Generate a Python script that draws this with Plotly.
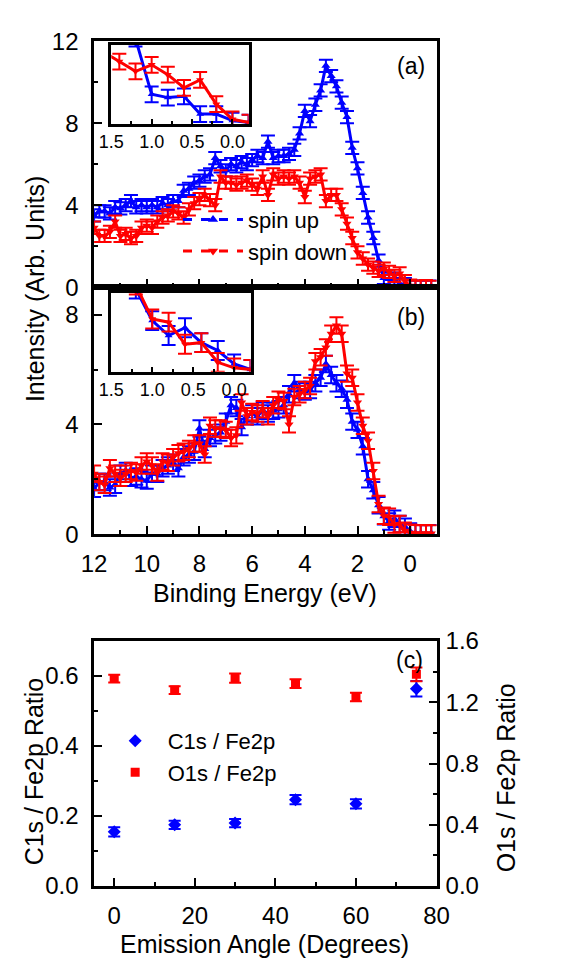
import plotly.graph_objects as go

# ---------------- data ----------------
energy = [12.0, 11.8, 11.6, 11.4, 11.2, 11.0, 10.8, 10.6, 10.4, 10.2, 10.0, 9.8, 9.6, 9.4, 9.2, 9.0,
          8.8, 8.6, 8.4, 8.2, 8.0, 7.8, 7.6, 7.4, 7.2, 7.0, 6.8, 6.6, 6.4, 6.2, 6.0, 5.8, 5.6, 5.4,
          5.2, 5.0, 4.8, 4.6, 4.4, 4.2, 4.0, 3.8, 3.6, 3.4, 3.2, 3.0, 2.8, 2.6, 2.4, 2.2, 2.0, 1.8,
          1.6, 1.4, 1.2, 1.0, 0.8, 0.6, 0.4, 0.2, 0.0, -0.2, -0.4, -0.6, -0.8]

a_up = [3.5, 3.7, 3.7, 3.6, 3.9, 3.85, 4.0, 4.2, 3.9, 4.0, 3.9, 4.0, 3.9, 4.1, 4.0, 4.2,
        4.2, 4.7, 4.8, 5.1, 5.2, 5.4, 5.5, 6.3, 5.9, 5.7, 6.0, 5.9, 6.1, 6.0, 6.2, 6.4, 6.3, 7.1,
        6.3, 6.4, 6.4, 6.5, 6.7, 7.5, 8.6, 8.1, 8.9, 9.6, 10.8, 10.3, 9.8, 9.0, 8.3, 6.8, 5.8, 4.6,
        3.4, 2.4, 1.3, 0.45, 0.4, 0.42, 0.15, 0.15, 0.05, 0.02, 0.03, 0.02, 0.03]

a_down = [2.9, 2.5, 2.5, 2.7, 3.2, 2.5, 2.6, 2.4, 2.5, 2.9, 3.0, 2.9, 3.2, 3.4, 3.5, 3.7,
          3.6, 3.4, 3.8, 4.1, 4.3, 4.5, 4.25, 4.0, 5.4, 5.1, 5.1, 5.0, 5.1, 5.2, 5.0, 4.8, 5.4, 4.5,
          5.5, 5.3, 5.4, 5.3, 5.4, 5.1, 4.4, 5.3, 5.4, 5.5, 4.2, 4.5, 4.5, 3.8, 3.1, 2.4, 1.7, 1.4,
          1.1, 0.95, 0.8, 0.9, 0.75, 0.55, 0.67, 0.3, 0.07, 0.02, 0.03, 0.05, 0.02]

b_up = [1.65, 1.9, 1.9, 1.7, 1.8, 2.2, 2.3, 2.05, 2.1, 2.0, 1.95, 2.2, 2.2, 2.4, 2.5, 2.6,
        2.4, 2.8, 2.9, 3.0, 3.85, 3.1, 3.5, 3.6, 3.7, 4.1, 4.7, 4.6, 3.9, 4.3, 4.4, 4.3, 4.5, 4.4,
        4.5, 4.55, 4.7, 5.1, 5.5, 5.25, 5.2, 5.25, 5.5, 5.7, 6.2, 5.8, 5.5, 5.3, 4.9, 4.1, 3.8, 3.2,
        2.0, 1.6, 1.05, 0.65, 0.46, 0.56, 0.37, 0.27, 0.1, 0.03, 0.03, 0.02, 0.03]

b_down = [2.2, 1.9, 1.8, 2.4, 2.2, 2.05, 2.2, 2.3, 2.25, 2.5, 2.65, 2.5, 2.25, 2.65, 2.6, 2.8,
          2.95, 3.0, 3.1, 3.3, 3.3, 2.9, 3.95, 3.85, 3.85, 3.8, 3.5, 3.6, 4.8, 4.3, 4.45, 4.4, 4.55, 4.3,
          4.7, 4.9, 4.85, 4.0, 5.0, 5.1, 5.25, 5.4, 6.3, 6.45, 6.8, 7.3, 7.6, 7.3, 5.85, 5.7, 4.8, 3.95,
          3.4, 2.3, 1.1, 0.67, 0.63, 0.35, 0.37, 0.12, 0.05, 0.03, 0.02, 0.03, 0.02]

spec_err = 0.3     # error bar half-height in the main panels
inset_err = 0.12   # error bar half-height as seen in the zoomed insets

angle = [0, 15, 30, 45, 60, 75]
c1s_ratio = [0.155, 0.175, 0.180, 0.247, 0.235, 0.564]
c1s_err = [0.013, 0.012, 0.012, 0.013, 0.013, 0.022]
o1s_ratio = [1.355, 1.280, 1.358, 1.322, 1.235, 1.383]
o1s_err = [0.025, 0.025, 0.03, 0.028, 0.028, 0.045]

BLUE = "#0000FF"
RED = "#FF0000"
FONT = "Arial, Liberation Sans, sans-serif"

fig = go.Figure()


def spectrum(x, y, color, symbol, xa, ya, err, msize=8):
    return go.Scatter(
        x=x, y=y, mode="lines+markers", xaxis=xa, yaxis=ya, showlegend=False,
        line=dict(color=color, width=3),
        marker=dict(color=color, symbol=symbol, size=msize),
        error_y=dict(type="constant", value=err, color=color, thickness=2, width=7),
        cliponaxis=True,
    )

# panel (a)
fig.add_trace(spectrum(energy, a_up, BLUE, "triangle-up", "x", "y", spec_err))
fig.add_trace(spectrum(energy, a_down, RED, "triangle-down", "x", "y", spec_err))
# panel (b)
fig.add_trace(spectrum(energy, b_up, BLUE, "triangle-up", "x2", "y2", spec_err))
fig.add_trace(spectrum(energy, b_down, RED, "triangle-down", "x2", "y2", spec_err))
# insets
fig.add_trace(spectrum(energy, a_up, BLUE, "triangle-up", "x5", "y5", inset_err, 7))
fig.add_trace(spectrum(energy, a_down, RED, "triangle-down", "x5", "y5", inset_err, 7))
fig.add_trace(spectrum(energy, b_up, BLUE, "triangle-up", "x6", "y6", inset_err, 7))
fig.add_trace(spectrum(energy, b_down, RED, "triangle-down", "x6", "y6", inset_err, 7))

# legend entries for (a)
fig.add_trace(go.Scatter(x=[None], y=[None], mode="lines+markers", name="spin up",
                         line=dict(color=BLUE, width=3, dash="dash"),
                         marker=dict(color=BLUE, symbol="triangle-up", size=9),
                         xaxis="x", yaxis="y", legend="legend"))
fig.add_trace(go.Scatter(x=[None], y=[None], mode="lines+markers", name="spin down",
                         line=dict(color=RED, width=3, dash="dash"),
                         marker=dict(color=RED, symbol="triangle-down", size=9),
                         xaxis="x", yaxis="y", legend="legend"))

# panel (c)
fig.add_trace(go.Scatter(x=angle, y=c1s_ratio, mode="markers", name="C1s / Fe2p",
                         marker=dict(color=BLUE, symbol="diamond", size=10),
                         error_y=dict(type="data", array=c1s_err, color=BLUE, thickness=2, width=6),
                         xaxis="x3", yaxis="y3", legend="legend2"))
fig.add_trace(go.Scatter(x=angle, y=o1s_ratio, mode="markers", name="O1s / Fe2p",
                         marker=dict(color=RED, symbol="square", size=9),
                         error_y=dict(type="data", array=o1s_err, color=RED, thickness=2, width=6),
                         xaxis="x3", yaxis="y4", legend="legend2"))

W, H = 564, 972
def px(x0, x1):
    return [x0 / W, x1 / W]
def py(top, bottom):
    return [1 - bottom / H, 1 - top / H]

tickfont = dict(family=FONT, size=24, color="black")
axis_common = dict(showline=True, linecolor="black", linewidth=2.5, mirror=True,
                   ticks="inside", tickcolor="black", tickwidth=2, ticklen=8,
                   showgrid=False, zeroline=False, tickfont=tickfont)
minor_common = dict(ticks="inside", ticklen=4, tickcolor="black", tickwidth=2, showgrid=False)
inset_font = dict(family=FONT, size=18, color="black")

XD = px(85, 444)

fig.update_layout(
    width=W, height=H, margin=dict(l=0, r=0, t=0, b=0),
    paper_bgcolor="white", plot_bgcolor="white",
    font=dict(family=FONT, color="black"),
    xaxis=dict(domain=XD, anchor="y", range=[12, -1], dtick=2, showticklabels=False,
               minor=dict(dtick=1, **minor_common), **axis_common),
    yaxis=dict(domain=py(28, 281), anchor="x", range=[0, 12], dtick=4, ticklabelstandoff=8,
               minor=dict(dtick=2, **minor_common), **axis_common),
    xaxis2=dict(domain=XD, anchor="y2", range=[12, -1], dtick=2, ticklabelstandoff=6,
                minor=dict(dtick=1, **minor_common), **axis_common),
    yaxis2=dict(domain=py(281, 535), anchor="x2", range=[0, 9], dtick=4, ticklabelstandoff=8,
                minor=dict(dtick=2, **minor_common), **axis_common),
    xaxis3=dict(domain=XD, anchor="y3", range=[-5, 80], dtick=20, ticklabelstandoff=6,
                minor=dict(dtick=10, **minor_common), **axis_common),
    yaxis3=dict(domain=py(645, 897), anchor="x3", range=[0, 0.7], dtick=0.2, tickformat=".1f",
                ticklabelstandoff=8, minor=dict(dtick=0.1, **minor_common), **axis_common),
    yaxis4=dict(overlaying="y3", side="right", anchor="x3", range=[0, 1.6], dtick=0.4,
                tickformat=".1f", showline=False, ticks="inside", tickcolor="black", tickwidth=2,
                ticklen=8, showgrid=False, zeroline=False, tickfont=tickfont, ticklabelstandoff=8,
                minor=dict(dtick=0.2, **minor_common)),
    xaxis5=dict(domain=px(103, 247), anchor="y5", range=[1.5, -0.2], dtick=0.5, tickformat=".1f",
                showline=True, linecolor="black", linewidth=2.5, mirror=True,
                ticks="inside", tickcolor="black", tickwidth=2, ticklen=5,
                minor=dict(dtick=0.25, ticks="inside", ticklen=3, tickcolor="black", tickwidth=2),
                showgrid=False, zeroline=False, tickfont=inset_font),
    yaxis5=dict(domain=py(32, 113), anchor="x5", range=[0, 1.2], showticklabels=False,
                showline=True, linecolor="black", linewidth=2.5, mirror=True, ticks="",
                showgrid=False, zeroline=False),
    xaxis6=dict(domain=px(103, 249), anchor="y6", range=[1.5, -0.2], dtick=0.5, tickformat=".1f",
                showline=True, linecolor="black", linewidth=2.5, mirror=True,
                ticks="inside", tickcolor="black", tickwidth=2, ticklen=5,
                minor=dict(dtick=0.25, ticks="inside", ticklen=3, tickcolor="black", tickwidth=2),
                showgrid=False, zeroline=False, tickfont=inset_font),
    yaxis6=dict(domain=py(287, 368), anchor="x6", range=[0, 1.0], showticklabels=False,
                showline=True, linecolor="black", linewidth=2.5, mirror=True, ticks="",
                showgrid=False, zeroline=False),
    legend=dict(x=173 / W, y=1 - 190 / H, xanchor="left", yanchor="top",
                bgcolor="rgba(0,0,0,0)", font=dict(family=FONT, size=22, color="black"),
                tracegroupgap=0, itemwidth=60),
    legend2=dict(x=94 / W, y=1 - 726 / H, xanchor="left", yanchor="top",
                 bgcolor="rgba(0,0,0,0)", font=dict(family=FONT, size=22, color="black"),
                 itemwidth=55),
)

def ann(text, x, y, size=25, angle=0):
    fig.add_annotation(text=text, x=x / W, y=1 - y / H, xref="paper", yref="paper",
                       xanchor="center", yanchor="middle",
                       showarrow=False, textangle=angle,
                       font=dict(family=FONT, size=size, color="black"))

ann("(a)", 417, 53, 23)
ann("(b)", 417, 312, 23)
ann("(c)", 416, 664, 23)
ann("Intensity (Arb. Units)", 23, 283, angle=-90)
ann("Binding Energy (eV)", 264, 596)
ann("Emission Angle (Degrees)", 264, 957)
ann("C1s / Fe2p Ratio", 22, 779, angle=-90)
ann("O1s / Fe2p Ratio", 517, 786, angle=-90)

fig.write_html("out.html",
               post_script="document.body.style.margin='0';document.body.style.padding='0';")
